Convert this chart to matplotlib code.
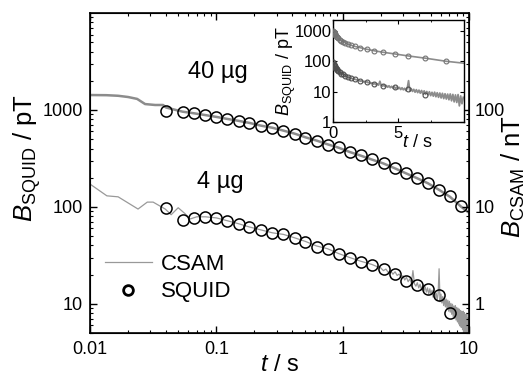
import numpy as np
import matplotlib
matplotlib.use("Agg")
import matplotlib.pyplot as plt
from matplotlib.ticker import FixedLocator, NullFormatter, LogLocator

plt.rcParams['font.family'] = ['Liberation Sans', 'DejaVu Sans']
plt.rcParams['mathtext.fontset'] = 'custom'
plt.rcParams['mathtext.rm'] = 'Liberation Sans'
plt.rcParams['mathtext.it'] = 'Liberation Sans:italic'

# --- SQUID data (pT) ---
t_squid = [0.040, 0.054, 0.066, 0.082, 0.100, 0.122, 0.150, 0.183, 0.224, 0.278,
           0.340, 0.416, 0.508, 0.622, 0.760, 0.929, 1.14, 1.39, 1.70, 2.11,
           2.59, 3.17, 3.87, 4.74, 5.79, 7.08, 8.70]
squid_40 = [976, 954, 932, 889, 849, 809, 772, 737, 687, 655,
            610, 569, 518, 483, 439, 410, 364, 339, 310, 281,
            250, 222, 198, 176, 150, 128, 101]
squid_4 = [97.7, 73.5, 77.1, 79.0, 77.0, 71.8, 66.9, 62.3, 58.1, 54.1,
           52.8, 48.1, 43.8, 38.9, 37.1, 33.0, 30.0, 27.3, 25.4, 22.6,
           20.1, 17.4, 15.8, 14.1, 12.2, 8.0, np.nan]

# --- CSAM data (converted to pT) ---
t_csam40 = [0.010, 0.0135, 0.0167, 0.020, 0.0236, 0.0273, 0.0328, 0.0379, 0.040, 0.054,
            0.066, 0.082, 0.100, 0.122, 0.150, 0.183, 0.224, 0.278, 0.340, 0.416,
            0.508, 0.622, 0.760, 0.929, 1.14, 1.39, 1.70, 2.11, 2.59, 3.17,
            3.87, 4.74, 5.79, 7.08, 8.70, 10.0]
csam40 = [1425, 1420, 1400, 1360, 1300, 1150, 1125, 1125, 1060, 960,
          925, 885, 848, 808, 772, 735, 690, 655, 612, 570,
          522, 483, 442, 408, 368, 338, 308, 280, 250, 222,
          198, 175, 150, 127, 100, 87]

t_csam4_early = [0.010, 0.0136, 0.0167, 0.024, 0.0284, 0.0316, 0.0394, 0.0439, 0.0499, 0.0566,
                 0.062, 0.070, 0.082, 0.100, 0.122, 0.150, 0.183, 0.224, 0.278, 0.340,
                 0.416, 0.508, 0.622, 0.760, 0.929, 1.14, 1.39, 1.70, 1.90]
csam4_early = [172, 130, 127, 95, 112, 112, 95, 83, 98, 85,
               75, 79, 79, 77, 72, 67, 62, 58, 54, 52,
               48, 44, 39.5, 37, 33, 30, 27.5, 25.5, 24]

# noisy tail, sampled every 0.1 s from 2 s to 10 s
t_csam4_tail = np.linspace(2.0, 10.0, 81)
csam4_tail = [23.5, 22.0, 22.8, 21.0, 21.9, 20.2, 21.4, 19.6, 20.3, 18.7,
              19.5, 17.6, 18.8, 16.9, 18.1, 16.4, 22.0, 16.1, 15.2, 16.5,
              14.6, 15.9, 14.0, 15.6, 13.5, 15.0, 13.2, 14.6, 12.6, 14.3,
              12.4, 13.8, 11.7, 13.4, 11.5, 12.9, 10.8, 12.8, 23.0, 10.5,
              12.6, 10.2, 11.9, 9.6, 11.6, 9.3, 11.2, 8.9, 10.9, 8.4,
              10.6, 8.2, 10.1, 7.8, 9.9, 7.4, 9.5, 7.1, 9.6, 6.8,
              9.2, 6.5, 9.0, 6.2, 8.8, 5.9, 8.5, 5.7, 8.3, 5.4,
              8.4, 5.0, 8.1, 4.6, 7.8, 4.4, 8.0, 3.4, 7.2, 4.0,
              6.5]

t_csam4 = list(t_csam4_early) + list(t_csam4_tail)
csam4 = csam4_early + csam4_tail

fig = plt.figure(figsize=(5.26, 3.75), dpi=100)
ax = fig.add_axes([0.1711, 0.112, 0.7205, 0.8533])

line_col = '0.55'
ax.plot(t_csam40, csam40, color=line_col, lw=1.8, zorder=2)
ax.plot(t_csam4, csam4, color='0.6', lw=0.9, zorder=2, label='CSAM')
ax.plot(t_squid, squid_40, 'o', mfc='none', mec='k', ms=8, mew=1.1, zorder=3)
ax.plot(t_squid, squid_4, 'o', mfc='none', mec='k', ms=8, mew=1.1, zorder=3, label='SQUID')

ax.set_xscale('log')
ax.set_yscale('log')
ax.set_xlim(0.01, 10)
ax.set_ylim(5, 1e4)
ax.set_xticks([0.01, 0.1, 1, 10])
ax.set_xticklabels(['0.01', '0.1', '1', '10'])
ax.set_yticks([10, 100, 1000])
ax.set_yticklabels(['10', '100', '1000'])
ax.yaxis.set_minor_locator(LogLocator(base=10, subs=np.arange(2, 10)))
ax.yaxis.set_minor_formatter(NullFormatter())
ax.xaxis.set_minor_formatter(NullFormatter())
ax.tick_params(which='both', direction='in', top=True, right=False, labelsize=13)
ax.tick_params(axis='x', pad=6)
ax.tick_params(axis='y', pad=5)
ax.tick_params(which='major', length=5, width=1)
ax.tick_params(which='minor', length=2.5, width=0.8)
for s in ax.spines.values():
    s.set_linewidth(1.2)

ax.set_xlabel(r'$t$ / s', fontsize=17)
ax.xaxis.set_label_coords(0.5, -0.066)
ax.set_ylabel(r'$B_{\rm SQUID}$ / pT', fontsize=18.5)
ax.yaxis.set_label_coords(-0.124, 0.547)

ax.text(0.338, 0.816, '40 µg', transform=ax.transAxes, fontsize=17, ha='center', va='center')
ax.text(0.343, 0.472, '4 µg', transform=ax.transAxes, fontsize=17, ha='center', va='center')

leg = ax.legend(loc='center left', bbox_to_anchor=(0.04, 0.172), frameon=False, fontsize=16,
                handlelength=2.1, handletextpad=0.4, labelspacing=0.3,
                borderpad=0, borderaxespad=0)
leg.get_lines()[1].set_markeredgewidth(2.0)
leg.get_lines()[1].set_markersize(7)

# right axis in nT
ax2 = ax.twinx()
ax2.set_yscale('log')
ax2.set_ylim(0.5, 1000)
ax2.set_yticks([1, 10, 100])
ax2.set_yticklabels(['1', '10', '100'])
ax2.yaxis.set_minor_locator(LogLocator(base=10, subs=np.arange(2, 10)))
ax2.yaxis.set_minor_formatter(NullFormatter())
ax2.tick_params(which='both', direction='in', labelsize=13, pad=4)
ax2.tick_params(which='major', length=5, width=1)
ax2.tick_params(which='minor', length=2.5, width=0.8)
ax2.set_ylabel(r'$B_{\rm CSAM}$ / nT', fontsize=18.5)
ax2.yaxis.set_label_coords(1.082, 0.4875)

# inset: linear time axis
axi = fig.add_axes([0.633, 0.6747, 0.249, 0.272])
axi.set_facecolor('white')
axi.plot(t_csam40, csam40, color=line_col, lw=1.2, zorder=2)
axi.plot(t_csam4, csam4, color='0.55', lw=1.3, zorder=2)
axi.plot(t_squid, squid_40, 'o', mfc='none', mec='0.45', ms=3.5, mew=0.8, zorder=3)
axi.plot(t_squid, squid_4, 'o', mfc='none', mec='0.3', ms=3.5, mew=0.8, zorder=3)
axi.set_yscale('log')
axi.set_xlim(0, 10.05)
axi.set_ylim(1, 2300)
axi.set_xticks([0, 5])
axi.xaxis.set_minor_locator(FixedLocator([2.5, 7.5]))
axi.set_yticks([1, 10, 100, 1000])
axi.set_yticklabels(['1', '10', '100', '1000'])
axi.yaxis.set_minor_locator(LogLocator(base=10, subs=np.arange(2, 10)))
axi.yaxis.set_minor_formatter(NullFormatter())
axi.tick_params(which='both', direction='in', top=True, right=True, labelsize=12)
axi.tick_params(axis='y', pad=1.2)
axi.tick_params(axis='x', pad=3)
axi.tick_params(which='major', length=3, width=0.8)
axi.tick_params(which='minor', length=1.5, width=0.6)
for s in axi.spines.values():
    s.set_linewidth(1.0)
axi.set_xlabel(r'$t$ / s', fontsize=13)
axi.xaxis.set_label_coords(0.64, -0.115)
axi.set_ylabel(r'$B_{\rm SQUID}$ / pT', fontsize=13)
axi.yaxis.set_label_coords(-0.267, 0.5)

fig.savefig('out.png', dpi=100)
